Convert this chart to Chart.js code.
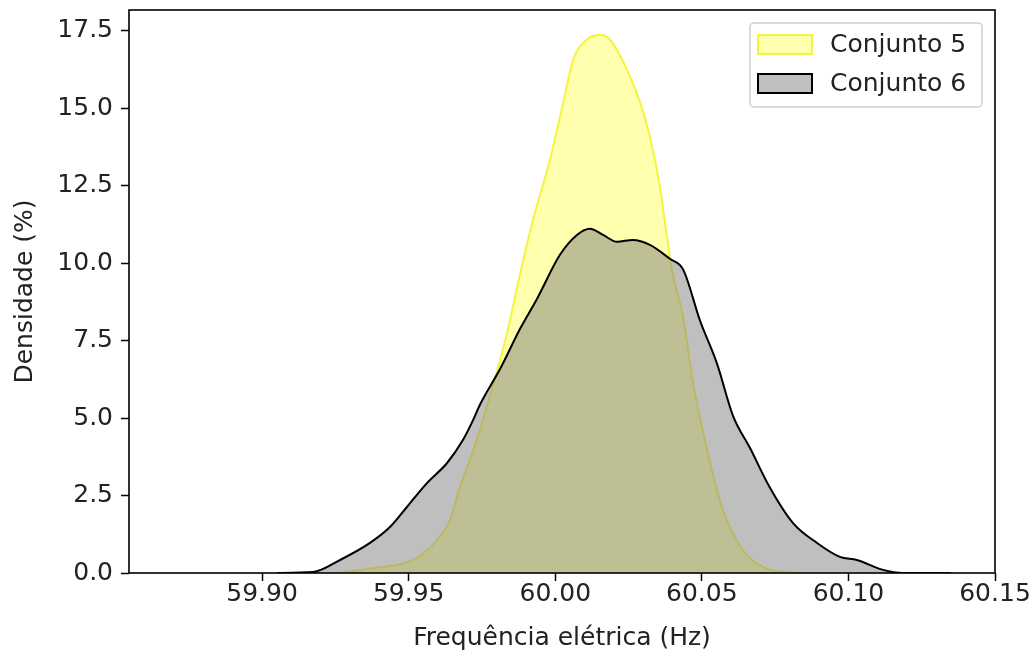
<!DOCTYPE html>
<html><head><meta charset="utf-8">
<script src="https://cdn.jsdelivr.net/npm/chart.js@4.4.0/dist/chart.umd.min.js"></script>
<style>html,body{margin:0;padding:0;background:#fff;}</style>
</head><body>
<canvas id="c" width="1035" height="657"></canvas>
<script>
const seriesNames = ['Conjunto 5', 'Conjunto 6'];
const c5X = [59.925, 59.9379, 59.9515, 59.9597, 59.9641, 59.9675, 59.9709, 59.9743, 59.9778, 59.9812, 59.9846, 59.9870, 59.9924, 59.9982, 60.0027, 60.0061, 60.0095, 60.0153, 60.0187, 60.0245, 60.0290, 60.0323, 60.0357, 60.0381, 60.0402, 60.0436, 60.0470, 60.0518, 60.0572, 60.0640, 60.0709, 60.0777, 60.085];
const c5Y = [0, 0.16, 0.42, 1.07, 1.71, 2.78, 3.65, 4.62, 5.75, 6.88, 8.17, 9.24, 11.40, 13.34, 15.18, 16.57, 17.11, 17.37, 17.21, 16.24, 15.18, 14.08, 12.47, 10.85, 9.6, 8.27, 6.14, 3.97, 2.03, 0.74, 0.19, 0.03, 0];
const c6X = [59.905, 59.9174, 59.9266, 59.9368, 59.9437, 59.9494, 59.9563, 59.9631, 59.9685, 59.9720, 59.9743, 59.9812, 59.9880, 59.9938, 60.0016, 60.0074, 60.0119, 60.0163, 60.0211, 60.0265, 60.0323, 60.0391, 60.0436, 60.0494, 60.0552, 60.0606, 60.0664, 60.0733, 60.0811, 60.0893, 60.0971, 60.1029, 60.1118, 60.1186, 60.135];
const c6Y = [0, 0.03, 0.42, 0.97, 1.49, 2.13, 2.91, 3.55, 4.29, 4.94, 5.43, 6.59, 7.88, 8.85, 10.27, 10.91, 11.11, 10.91, 10.69, 10.75, 10.59, 10.14, 9.8, 8.14, 6.75, 5.08, 4.04, 2.74, 1.61, 0.97, 0.52, 0.42, 0.10, 0, 0];
const xTicks = [59.90, 59.95, 60.00, 60.05, 60.10, 60.15];
const yTicks = [0, 2.5, 5.0, 7.5, 10.0, 12.5, 15.0, 17.5];
const xTitle = 'Frequência elétrica (Hz)';
const yTitle = 'Densidade (%)';

const FONT = 'DejaVu Sans';
const pts = (xs, ys) => xs.map((x, i) => ({x: x, y: ys[i]}));

const frameAndLegend = {
  id: 'frameAndLegend',
  afterDatasetsDraw(chart) {
    const ctx = chart.ctx, a = chart.chartArea;
    ctx.save();
    ctx.strokeStyle = '#000';
    ctx.lineWidth = 1.6;
    ctx.strokeRect(a.left, a.top, a.right - a.left, a.bottom - a.top);
    const bx = 750, by = 23, bw = 232, bh = 84;
    ctx.fillStyle = 'rgba(255,255,255,0.8)';
    ctx.strokeStyle = '#d0d0d0';
    ctx.lineWidth = 1.5;
    ctx.beginPath();
    ctx.roundRect(bx, by, bw, bh, 4);
    ctx.fill();
    ctx.stroke();
    const rows = [45, 84];
    chart.data.datasets.forEach((ds, i) => {
      const cy = rows[i];
      ctx.fillStyle = '#fff';
      ctx.fillRect(758, cy - 10, 54, 19);
      ctx.fillStyle = ds.backgroundColor;
      ctx.fillRect(758, cy - 10, 54, 19);
      ctx.strokeStyle = ds.borderColor;
      ctx.lineWidth = 2;
      ctx.strokeRect(758, cy - 10, 54, 19);
      ctx.fillStyle = '#222';
      ctx.font = '25px "' + FONT + '"';
      ctx.textBaseline = 'middle';
      ctx.textAlign = 'left';
      ctx.fillText(ds.label, 830, cy);
    });
    ctx.restore();
  }
};

new Chart(document.getElementById('c'), {
  type: 'line',
  data: {
    datasets: [
      {label: seriesNames[0], data: pts(c5X, c5Y), order: 2,
       backgroundColor: 'rgba(255,255,0,0.32)', borderColor: 'rgba(240,240,0,0.7)', borderWidth: 2,
       fill: 'origin', pointRadius: 0, cubicInterpolationMode: 'monotone'},
      {label: seriesNames[1], data: pts(c6X, c6Y), order: 1,
       backgroundColor: 'rgba(128,128,128,0.5)', borderColor: '#000', borderWidth: 2,
       fill: 'origin', pointRadius: 0, cubicInterpolationMode: 'monotone'}
    ]
  },
  options: {
    responsive: false,
    animation: false,
    devicePixelRatio: 1,
    layout: {padding: {top: 10, right: 40, bottom: 0, left: 0}},
    plugins: {legend: {display: false}, tooltip: {enabled: false}},
    scales: {
      x: {
        type: 'linear', min: 59.8546, max: 60.15,
        afterBuildTicks: s => { s.ticks = xTicks.map(v => ({value: v})); },
        afterFit: s => { s.height = 84; s.paddingLeft = 0; s.paddingRight = 0; },
        ticks: {font: {family: FONT, size: 25}, color: '#222', padding: -2, maxRotation: 0,
                callback: v => Number(v).toFixed(2)},
        grid: {drawOnChartArea: false, drawTicks: true, tickLength: 8, color: '#000', tickWidth: 1.5},
        border: {display: false},
        title: {display: true, text: xTitle, font: {family: FONT, size: 25}, color: '#222', padding: {top: 0, bottom: 4}}
      },
      y: {
        type: 'linear', min: 0, max: 18.17,
        afterBuildTicks: s => { s.ticks = yTicks.map(v => ({value: v})); },
        afterFit: s => { s.width = 129; s.paddingTop = 0; s.paddingBottom = 0; },
        ticks: {font: {family: FONT, size: 25}, color: '#222', padding: 8,
                callback: v => Number(v).toFixed(1)},
        grid: {drawOnChartArea: false, drawTicks: true, tickLength: 8, color: '#000', tickWidth: 1.5},
        border: {display: false},
        title: {display: true, text: yTitle, font: {family: FONT, size: 25}, color: '#222', padding: {top: 10, bottom: 0}}
      }
    }
  },
  plugins: [frameAndLegend]
});
</script>
</body></html>
